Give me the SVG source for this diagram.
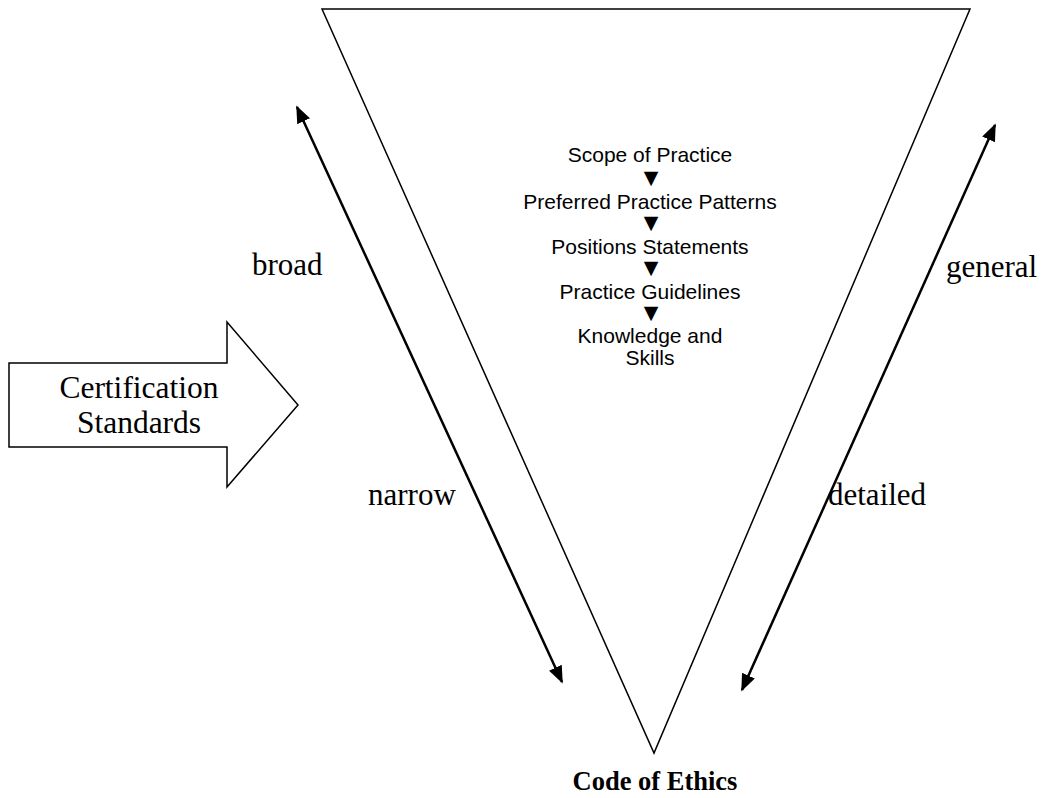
<svg xmlns="http://www.w3.org/2000/svg" width="1044" height="798" viewBox="0 0 1044 798">
<defs>
<marker id="ah" viewBox="0 0 10 8" refX="9" refY="4" markerWidth="7" markerHeight="5.6" orient="auto-start-reverse" markerUnits="strokeWidth">
<path d="M0,0 L10,4 L0,8 z" fill="#000"/>
</marker>
<style>
.lbl{font-family:"Liberation Serif","Times New Roman",serif;font-size:31px;fill:#000}
.item{font-family:"Liberation Sans",Arial,sans-serif;font-size:21px;fill:#000;text-anchor:middle}
.tri{font-family:"DejaVu Sans",sans-serif;font-size:19px;fill:#000;text-anchor:middle}
.shape{fill:#fff;stroke:#000;stroke-width:1.5}
.dbl{stroke:#000;stroke-width:2.5;fill:none}
</style>
</defs>
<rect width="1044" height="798" fill="#fff"/>
<g id="funnel">
<polygon class="shape" points="322,9 970,9 654,753"/>
<text class="item" x="650" y="162">Scope of Practice</text>
<text class="tri" x="651" y="184">▼</text>
<text class="item" x="650" y="209">Preferred Practice Patterns</text>
<text class="tri" x="651" y="229">▼</text>
<text class="item" x="650" y="254">Positions Statements</text>
<text class="tri" x="651" y="274">▼</text>
<text class="item" x="650" y="299">Practice Guidelines</text>
<text class="tri" x="651" y="319">▼</text>
<text class="item" x="650" y="343">Knowledge and</text>
<text class="item" x="650" y="365">Skills</text>
</g>
<g id="cert">
<polygon class="shape" points="9,363 227,363 227,322 298,405 227,487 227,447 9,447"/>
<text class="lbl" x="139" y="398" text-anchor="middle" style="font-size:31.5px">Certification</text>
<text class="lbl" x="139" y="433" text-anchor="middle" style="font-size:31.5px">Standards</text>
</g>
<g id="connectors">
<line class="dbl" x1="297" y1="107" x2="562" y2="682" marker-start="url(#ah)" marker-end="url(#ah)"/>
<line class="dbl" x1="995" y1="125" x2="742" y2="690" marker-start="url(#ah)" marker-end="url(#ah)"/>
</g>
<g id="labels">
<text class="lbl" x="252" y="275">broad</text>
<text class="lbl" x="946" y="277">general</text>
<text class="lbl" x="368" y="505">narrow</text>
<text class="lbl" x="828" y="505">detailed</text>
<text class="lbl" x="655" y="790" text-anchor="middle" style="font-weight:bold;font-size:26.5px">Code of Ethics</text>
</g>
</svg>
